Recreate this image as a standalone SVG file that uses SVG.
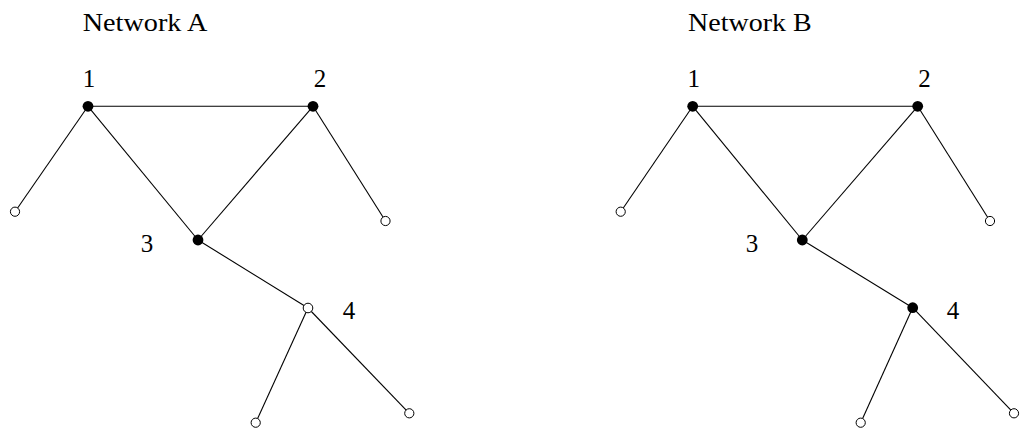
<svg xmlns="http://www.w3.org/2000/svg" width="1029" height="445" viewBox="0 0 1029 445">
<style>
.e{stroke:#000;stroke-width:1.1;fill:none}
.f{fill:#000;stroke:none}
.o{fill:#fff;stroke:#000;stroke-width:1}
.t{font-family:'Liberation Serif','Times New Roman',serif;font-size:25px;fill:#000}
.h{font-size:26px}
.c{text-anchor:middle}
</style>
<rect width="1029" height="445" fill="#fff"/>
<g id="networkA">
<text id="titleA" class="t h" x="82.7" y="30.7" textLength="124.6" lengthAdjust="spacingAndGlyphs">Network A</text>
<g id="connectorsA">
<line class="e" x1="88" y1="106.3" x2="313" y2="106.3"/>
<line class="e" x1="88" y1="106.3" x2="15" y2="211.7"/>
<line class="e" x1="88" y1="106.3" x2="198" y2="240"/>
<line class="e" x1="313" y1="106.3" x2="198" y2="240"/>
<line class="e" x1="313" y1="106.3" x2="385.5" y2="221"/>
<line class="e" x1="198" y1="240" x2="308" y2="308"/>
<line class="e" x1="308" y1="308" x2="255.7" y2="422.7"/>
<line class="e" x1="308" y1="308" x2="409.3" y2="413.3"/>
</g>
<g id="A1"><circle class="f" cx="88" cy="106.3" r="5.4"/><text class="t c" x="89" y="87">1</text></g>
<g id="A2"><circle class="f" cx="313" cy="106.3" r="5.4"/><text class="t c" x="320" y="87">2</text></g>
<g id="A3"><circle class="f" cx="198" cy="240" r="5.4"/><text class="t c" x="147" y="252">3</text></g>
<g id="A4"><circle class="o" cx="308" cy="308" r="4.8"/><text class="t c" x="349" y="319">4</text></g>
<g id="A1leaf"><circle class="o" cx="15" cy="211.7" r="4.6"/></g>
<g id="A2leaf"><circle class="o" cx="385.5" cy="221" r="4.6"/></g>
<g id="A4leafL"><circle class="o" cx="255.7" cy="422.7" r="4.6"/></g>
<g id="A4leafR"><circle class="o" cx="409.3" cy="413.3" r="4.6"/></g>
</g>
<g id="networkB">
<text id="titleB" class="t h" x="688" y="30.7" textLength="123.7" lengthAdjust="spacingAndGlyphs">Network B</text>
<g id="connectorsB">
<line class="e" x1="692.7" y1="106.3" x2="917.7" y2="106.3"/>
<line class="e" x1="692.7" y1="106.3" x2="620.7" y2="211.7"/>
<line class="e" x1="692.7" y1="106.3" x2="802.3" y2="240"/>
<line class="e" x1="917.7" y1="106.3" x2="802.3" y2="240"/>
<line class="e" x1="917.7" y1="106.3" x2="990" y2="221"/>
<line class="e" x1="802.3" y1="240" x2="912.7" y2="307.7"/>
<line class="e" x1="912.7" y1="307.7" x2="860.7" y2="422.7"/>
<line class="e" x1="912.7" y1="307.7" x2="1014" y2="413.3"/>
</g>
<g id="B1"><circle class="f" cx="692.7" cy="106.3" r="5.4"/><text class="t c" x="693.8" y="87">1</text></g>
<g id="B2"><circle class="f" cx="917.7" cy="106.3" r="5.4"/><text class="t c" x="924.5" y="87">2</text></g>
<g id="B3"><circle class="f" cx="802.3" cy="240" r="5.4"/><text class="t c" x="752" y="252">3</text></g>
<g id="B4"><circle class="f" cx="912.7" cy="307.7" r="5.4"/><text class="t c" x="953" y="319">4</text></g>
<g id="B1leaf"><circle class="o" cx="620.7" cy="211.7" r="4.6"/></g>
<g id="B2leaf"><circle class="o" cx="990" cy="221" r="4.6"/></g>
<g id="B4leafL"><circle class="o" cx="860.7" cy="422.7" r="4.6"/></g>
<g id="B4leafR"><circle class="o" cx="1014" cy="413.3" r="4.6"/></g>
</g>
</svg>
